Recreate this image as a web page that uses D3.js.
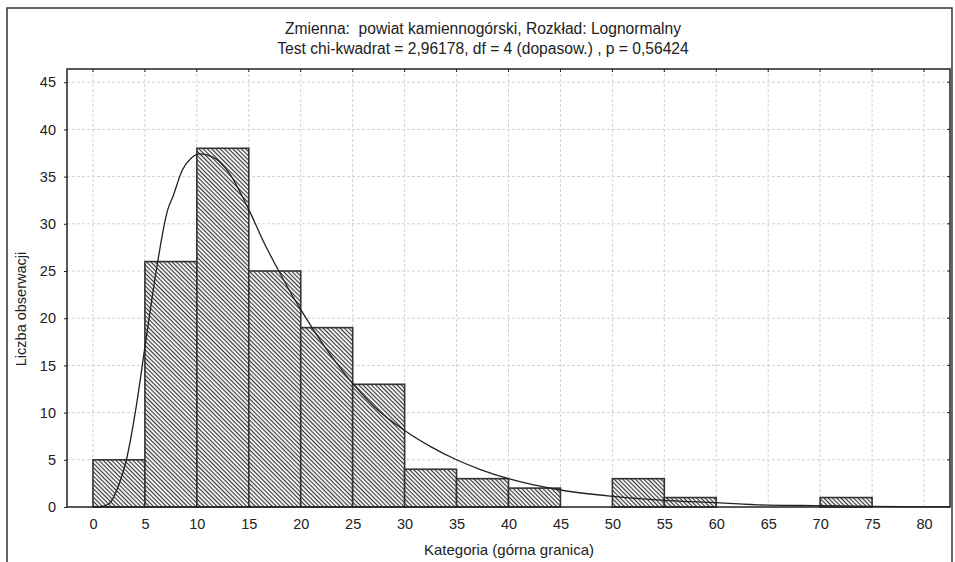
<!DOCTYPE html>
<html>
<head>
<meta charset="utf-8">
<script src="https://cdn.jsdelivr.net/npm/d3@7"></script>
<style>
  html, body { margin: 0; padding: 0; background: #fff; }
  svg { display: block; font-family: "Liberation Sans", Arial, sans-serif; }
  .keep-space { white-space: pre; }
</style>
</head>
<body>
<svg id="chart" width="955" height="562"></svg>
<script>
// Histogram bins (upper bound of each 5-unit class) and observed counts
const binStart = [0, 5, 10, 15, 20, 25, 30, 35, 40, 45, 50, 55, 60, 65, 70, 75];
const binEnd   = [5, 10, 15, 20, 25, 30, 35, 40, 45, 50, 55, 60, 65, 70, 75, 80];
const counts   = [5, 26, 38, 25, 19, 13, 4, 3, 2, 0, 3, 1, 0, 0, 1, 0];

// Fitted lognormal curve (expected counts per class)
const curveX = [0, 1, 1.6, 2.4, 3.2, 4.1, 5.1, 6.1, 7.2, 7.7, 8.6, 9.5, 10.3, 11.5, 13.1, 15.0, 16.6, 17.5, 20, 22.3, 25, 27.1, 30, 32.5, 35.1, 37.3, 40, 45, 50, 55, 60, 65, 70, 75, 80, 82.5];
const curveY = [0, 0.1, 0.4, 2.1, 4.9, 10.2, 17.7, 25.1, 31.5, 32.9, 35.7, 37.0, 37.4, 37.1, 35.4, 31.5, 27.7, 25.8, 20.9, 17.0, 13.1, 10.6, 8.1, 6.4, 4.95, 3.97, 3.0, 1.8, 1.13, 0.71, 0.46, 0.2, 0.14, 0.06, 0.02, 0.01];

const xTicks = [0, 5, 10, 15, 20, 25, 30, 35, 40, 45, 50, 55, 60, 65, 70, 75, 80];
const yTicks = [0, 5, 10, 15, 20, 25, 30, 35, 40, 45];

const titleLines = [
  "Zmienna:  powiat kamiennogórski, Rozkład: Lognormalny",
  "Test chi-kwadrat = 2,96178, df = 4 (dopasow.) , p = 0,56424"
];
const xTitle = "Kategoria (górna granica)";
const yTitle = "Liczba obserwacji";

const svg = d3.select("#chart");
const plot = { left: 67, right: 950, top: 69, bottom: 507 };

const x = d3.scaleLinear().domain([-2.5, 82.5]).range([plot.left, plot.right]);
const y = d3.scaleLinear().domain([0, 46.4]).range([plot.bottom, plot.top]);

// Outer frame
svg.append("path")
  .attr("d", "M7,570 V8 H952 V570")
  .attr("fill", "none").attr("stroke", "#333").attr("stroke-width", 1.5);

// Hatch pattern for the bars
const defs = svg.append("defs");
const pat = defs.append("pattern")
  .attr("id", "hatch").attr("patternUnits", "userSpaceOnUse")
  .attr("width", 3).attr("height", 3)
  .attr("patternTransform", "rotate(45)");
pat.append("rect").attr("width", 3).attr("height", 3).attr("fill", "#fff");
pat.append("line").attr("x1", 0).attr("y1", 0.6).attr("x2", 3).attr("y2", 0.6)
  .attr("stroke", "#2a2a2a").attr("stroke-width", 1.1);

// Grid
const grid = svg.append("g");
grid.selectAll("line.v").data(xTicks).join("line")
  .attr("x1", d => x(d)).attr("x2", d => x(d))
  .attr("y1", plot.top).attr("y2", plot.bottom)
  .attr("stroke", "#d2d2d2").attr("stroke-dasharray", "3,2").attr("stroke-width", 1);
grid.selectAll("line.h").data(yTicks.filter(d => d > 0)).join("line")
  .attr("x1", plot.left).attr("x2", plot.right)
  .attr("y1", d => y(d)).attr("y2", d => y(d))
  .attr("stroke", "#d2d2d2").attr("stroke-dasharray", "3,2").attr("stroke-width", 1);

// Bars
svg.append("g").selectAll("rect").data(counts.map((c, i) => ({ c, a: binStart[i], b: binEnd[i] })).filter(d => d.c > 0))
  .join("rect")
  .attr("x", d => x(d.a)).attr("width", d => x(d.b) - x(d.a))
  .attr("y", d => y(d.c)).attr("height", d => y(0) - y(d.c))
  .attr("fill", "url(#hatch)").attr("stroke", "#333").attr("stroke-width", 1.6);

// Fitted curve
const line = d3.line().x((d, i) => x(curveX[i])).y(d => y(d)).curve(d3.curveMonotoneX);
svg.append("path").datum(curveY).attr("d", line)
  .attr("fill", "none").attr("stroke", "#222").attr("stroke-width", 1.3);

// Plot border
svg.append("rect")
  .attr("x", plot.left).attr("y", plot.top)
  .attr("width", plot.right - plot.left).attr("height", plot.bottom - plot.top)
  .attr("fill", "none").attr("stroke", "#222").attr("stroke-width", 1.5);

// Axes
const yAxis = svg.append("g").attr("transform", `translate(${plot.left},0)`)
  .call(d3.axisLeft(y).tickValues(yTicks).tickSize(3).tickPadding(8).tickFormat(d3.format("d")));
const xAxis = svg.append("g").attr("transform", `translate(0,${plot.bottom})`)
  .call(d3.axisBottom(x).tickValues(xTicks).tickSize(0).tickPadding(12).tickFormat(d3.format("d")));
[yAxis, xAxis].forEach(g => {
  g.select(".domain").remove();
  g.selectAll("text").attr("font-size", 14.5).attr("fill", "#222")
    .attr("font-family", "'Liberation Sans', Arial, sans-serif");
  g.selectAll("line").attr("stroke", "#222");
});
// Inner mirror ticks on top and right edges
svg.append("g").selectAll("line").data(xTicks).join("line")
  .attr("x1", d => x(d)).attr("x2", d => x(d))
  .attr("y1", plot.top).attr("y2", plot.top + 3).attr("stroke", "#222");
svg.append("g").selectAll("line").data(yTicks).join("line")
  .attr("x1", plot.right).attr("x2", plot.right - 3)
  .attr("y1", d => y(d)).attr("y2", d => y(d)).attr("stroke", "#222");

// Titles
svg.append("g").selectAll("text").data(titleLines).join("text")
  .attr("class", "keep-space")
  .attr("x", 483).attr("y", (d, i) => 34 + i * 20)
  .attr("text-anchor", "middle").attr("font-size", 15.6).attr("fill", "#222")
  .text(d => d);
svg.append("text").attr("x", 509).attr("y", 555)
  .attr("text-anchor", "middle").attr("font-size", 15).attr("fill", "#222")
  .text(xTitle);
svg.append("text").attr("transform", `translate(26,309) rotate(-90)`)
  .attr("text-anchor", "middle").attr("font-size", 14.5).attr("fill", "#222")
  .text(yTitle);
</script>
</body>
</html>
